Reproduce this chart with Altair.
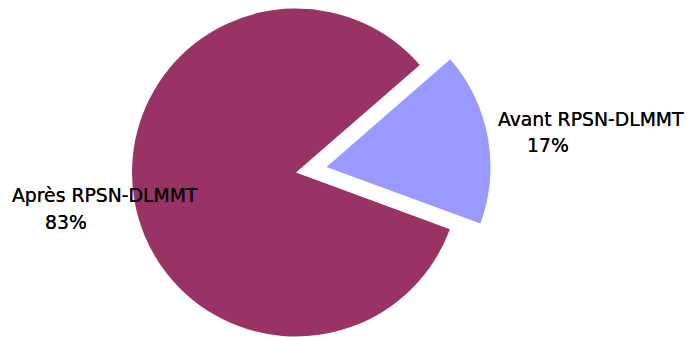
import math
import altair as alt
import pandas as pd

categories = ["Avant RPSN-DLMMT", "Après RPSN-DLMMT"]
values = [17, 83]
colors = ["#9999FF", "#993366"]

df = pd.DataFrame({"cat": categories, "value": values, "idx": list(range(len(values)))})

start = math.radians(49)
theta_scale = alt.Scale(range=[start, start + 2 * math.pi])

cx, cy, r = 296, 172.5, 164
ex = 31
mid = start + math.radians(360 * values[0] / sum(values) / 2)
dx, dy = ex * math.sin(mid), -ex * math.cos(mid)

base = alt.Chart(df).encode(
    theta=alt.Theta("value:Q", stack=True, scale=theta_scale),
    order=alt.Order("idx:Q"),
    color=alt.Color("cat:N", scale=alt.Scale(domain=categories, range=colors), legend=None),
)

big = base.mark_arc(outerRadius=r).encode(
    x=alt.value(cx), y=alt.value(cy),
    fillOpacity=alt.condition(alt.datum.cat == categories[1], alt.value(1), alt.value(0)),
)
small = base.mark_arc(outerRadius=r).encode(
    x=alt.value(cx + dx), y=alt.value(cy + dy),
    fillOpacity=alt.condition(alt.datum.cat == categories[0], alt.value(1), alt.value(0)),
)

font = "DejaVu Sans"
fs = 18.8

def label(text, x, y):
    return alt.Chart(df).mark_text(
        font=font, fontSize=fs, fontWeight="normal", align="left",
        baseline="alphabetic", color="black"
    ).encode(x=alt.value(x), y=alt.value(y), text=alt.value(text))

texts = [
    label(categories[0], 498, 126),
    label(f"{values[0]}%", 527, 152),
    label(categories[1], 12, 202),
    label(f"{values[1]}%", 45, 229),
]

chart = alt.layer(big, small, *texts).properties(
    width=689, height=337, autosize="none", padding=0, background="white"
).configure_view(stroke=None)

chart.save("out.html", embed_options={"renderer": "svg", "actions": False})
